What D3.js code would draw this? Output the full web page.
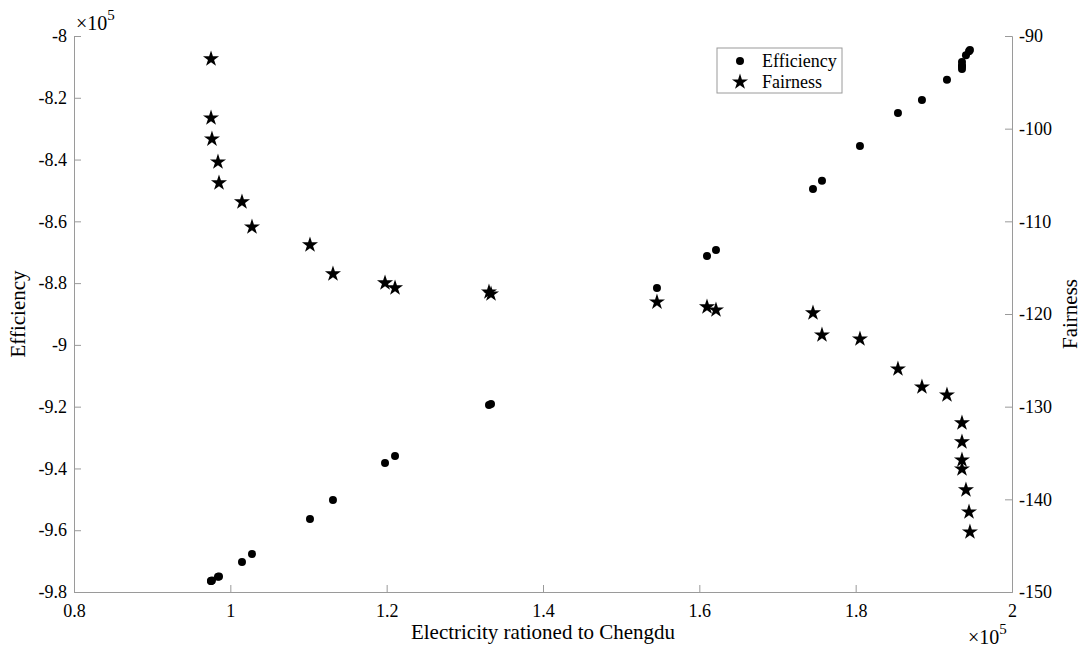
<!DOCTYPE html>
<html>
<head>
<meta charset="utf-8">
<script src="https://cdn.jsdelivr.net/npm/d3@7"></script>
<style>
  body { margin: 0; background: #fff; }
  text { font-family: "Liberation Serif", "Times New Roman", serif; fill: #000; }
</style>
</head>
<body>
<script>
// x values in units of 1e5 (shared by both series)
var rationed = [0.9753, 0.9753, 0.9765, 0.9842, 0.9855, 1.0149, 1.0277, 1.1019, 1.1313,
                1.1979, 1.2107, 1.3309, 1.3335, 1.5458, 1.6098, 1.6213, 1.7454, 1.7569,
                1.8055, 1.8541, 1.8848, 1.9168, 1.9360, 1.9360, 1.9360, 1.9360, 1.9411,
                1.9450, 1.9462];
// efficiency in units of 1e5
var efficiency = [-9.764, -9.764, -9.763, -9.751, -9.750, -9.703, -9.677, -9.564, -9.502,
                  -9.382, -9.360, -9.195, -9.191, -8.816, -8.712, -8.693, -8.495, -8.469,
                  -8.356, -8.249, -8.207, -8.142, -8.084, -8.097, -8.107, -8.097, -8.062,
                  -8.049, -8.045];
var fairness = [-92.48, -98.85, -101.12, -103.60, -105.86, -107.91, -110.61, -112.55, -115.68,
                -116.65, -117.19, -117.63, -117.84, -118.71, -119.24, -119.57, -119.89, -122.27,
                -122.70, -125.94, -127.88, -128.74, -131.76, -133.81, -135.76, -136.73, -138.99,
                -141.37, -143.53];

var xTicks = [0.8, 1, 1.2, 1.4, 1.6, 1.8, 2];
var leftTicks = [-8, -8.2, -8.4, -8.6, -8.8, -9, -9.2, -9.4, -9.6, -9.8];
var rightTicks = [-90, -100, -110, -120, -130, -140, -150];

var w = 1083, h = 647;
var margin = { top: 36, right: 71, bottom: 55, left: 74 };
var width = w - margin.left - margin.right;
var height = h - margin.top - margin.bottom;
var axisColor = "#9a9a9a";

var svg = d3.select("body").append("svg")
  .attr("width", w).attr("height", h)
  .append("g")
  .attr("transform", `translate(${margin.left},${margin.top})`);

var x = d3.scaleLinear().domain([0.8, 2]).range([0, width]);
var yL = d3.scaleLinear().domain([-9.8, -8]).range([height, 0]);
var yR = d3.scaleLinear().domain([-150, -90]).range([height, 0]);

var fmt = d3.format("");

var xAxis = svg.append("g")
  .attr("transform", `translate(0,${height})`)
  .call(d3.axisBottom(x).tickValues(xTicks).tickSize(-7).tickPadding(12).tickFormat(fmt));

var leftAxis = svg.append("g")
  .call(d3.axisLeft(yL).tickValues(leftTicks).tickSize(-7).tickPadding(7).tickFormat(fmt));

var rightAxis = svg.append("g")
  .attr("transform", `translate(${width},0)`)
  .call(d3.axisRight(yR).tickValues(rightTicks).tickSize(-7).tickPadding(7).tickFormat(fmt));

[xAxis, leftAxis, rightAxis].forEach(function (a) {
  a.attr("font-size", null).attr("font-family", null);
  a.select(".domain").attr("stroke", axisColor);
  a.selectAll(".tick line").attr("stroke", axisColor);
  a.selectAll(".tick text").style("font-size", "18px")
    .style("font-family", "Liberation Serif").attr("fill", "#000");
});
// hyphen instead of the unicode minus, as in the original
leftAxis.selectAll(".tick text").text(function (d) { return String(d); });
rightAxis.selectAll(".tick text").text(function (d) { return String(d); });

// axis titles
svg.append("text")
  .attr("x", width / 2).attr("y", height + 47)
  .attr("text-anchor", "middle").style("font-size", "21px")
  .text("Electricity rationed to Chengdu");

svg.append("text")
  .attr("transform", `translate(${-49},${height / 2}) rotate(-90)`)
  .attr("text-anchor", "middle").style("font-size", "21px")
  .text("Efficiency");

svg.append("text")
  .attr("transform", `translate(${width + 65},${height / 2}) rotate(-90)`)
  .attr("text-anchor", "middle").style("font-size", "21px")
  .text("Fairness");

// exponent labels
var exp1 = svg.append("text").attr("x", 2).attr("y", -6).style("font-size", "20px");
exp1.append("tspan").text("\u00d710");
exp1.append("tspan").attr("dy", -10).style("font-size", "15px").text("5");

var exp2 = svg.append("text").attr("x", width - 44).attr("y", height + 52).style("font-size", "20px");
exp2.append("tspan").text("\u00d710");
exp2.append("tspan").attr("dy", -10).style("font-size", "15px").text("5");

// data
var pts = rationed.map(function (r, i) {
  return { x: r, e: efficiency[i], f: fairness[i] };
});

svg.selectAll(".eff")
  .data(pts)
  .enter()
  .append("circle")
  .attr("class", "eff")
  .attr("cx", d => x(d.x))
  .attr("cy", d => yL(d.e))
  .attr("r", 4)
  .attr("fill", "#000");

var star = d3.symbol().type(d3.symbolStar).size(80);

svg.selectAll(".fair")
  .data(pts)
  .enter()
  .append("path")
  .attr("class", "fair")
  .attr("d", star)
  .attr("transform", d => `translate(${x(d.x)},${yR(d.f)})`)
  .attr("fill", "#000");

// legend
var lg = svg.append("g").attr("transform", `translate(${717 - margin.left},${48 - margin.top})`);
lg.append("rect")
  .attr("width", 125).attr("height", 45)
  .attr("fill", "#fff").attr("stroke", axisColor);
lg.append("circle").attr("cx", 23).attr("cy", 13).attr("r", 4).attr("fill", "#000");
lg.append("path").attr("d", star).attr("transform", "translate(23,34)").attr("fill", "#000");
lg.append("text").attr("x", 45).attr("y", 19).style("font-size", "18px").text("Efficiency");
lg.append("text").attr("x", 45).attr("y", 40).style("font-size", "18px").text("Fairness");
</script>
</body>
</html>
